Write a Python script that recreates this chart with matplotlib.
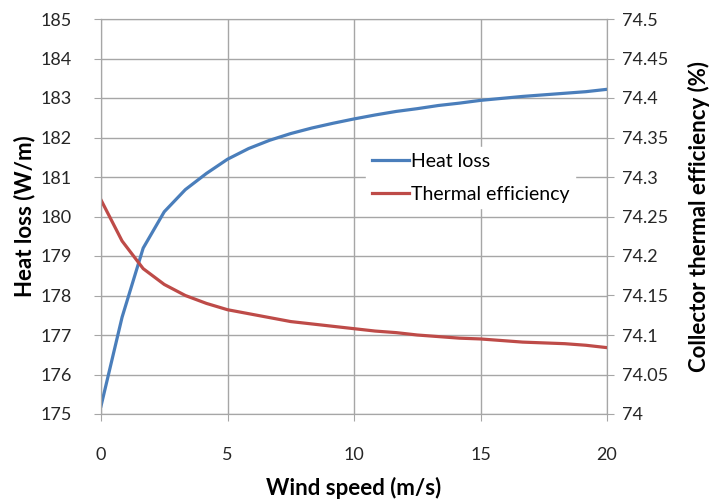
import matplotlib.pyplot as plt

plt.rcParams['font.family'] = ['Lato', 'DejaVu Sans']

# wind speed steps (m/s)
wind_speed = [0, 0.833, 1.667, 2.5, 3.333, 4.167, 5, 5.833, 6.667, 7.5, 8.333, 9.167, 10,
              10.833, 11.667, 12.5, 13.333, 14.167, 15, 15.833, 16.667, 17.5, 18.333, 19.167, 20]

heat_loss = [175.2, 177.45, 179.2, 180.12, 180.68, 181.09, 181.45, 181.72, 181.93, 182.1, 182.24,
             182.36, 182.47, 182.57, 182.66, 182.73, 182.81, 182.87, 182.94, 182.99, 183.04,
             183.08, 183.12, 183.16, 183.22]

thermal_eff = [74.271, 74.219, 74.184, 74.164, 74.150, 74.140, 74.132, 74.127, 74.122, 74.117,
               74.114, 74.111, 74.108, 74.105, 74.103, 74.100, 74.098, 74.096, 74.095, 74.093,
               74.091, 74.090, 74.089, 74.087, 74.084]

fig = plt.figure(figsize = (7.14, 5.04), dpi = 100)
ax = fig.add_axes([101 / 714, 1 - 414 / 504, 506 / 714, 395 / 504])
ax2 = ax.twinx()

grid_col = '#a6a6a6'
blue = '#4a7ebb'
red = '#be4b48'

l1, = ax.plot(wind_speed, heat_loss, color = blue, lw = 2.3, label = 'Heat loss')
l2, = ax2.plot(wind_speed, thermal_eff, color = red, lw = 2.3, label = 'Thermal efficiency')

ax.set_xlim(0, 20)
ax.set_ylim(175, 185)
ax2.set_ylim(74, 74.5)
ax.set_xticks([0, 5, 10, 15, 20])
ax.set_yticks(range(175, 186))
ax2.set_yticks([74, 74.05, 74.1, 74.15, 74.2, 74.25, 74.3, 74.35, 74.4, 74.45, 74.5])
ax2.set_yticklabels(['74', '74.05', '74.1', '74.15', '74.2', '74.25', '74.3', '74.35',
                     '74.4', '74.45', '74.5'])

ax.grid(True, color = grid_col, lw = 1)
ax.set_axisbelow(True)
for a in (ax, ax2):
    for s in a.spines.values():
        s.set_color(grid_col)
    a.tick_params(colors = grid_col, labelcolor = '#262626', labelsize = 13, length = 5)
ax.tick_params(axis = 'y', pad = 16)
ax.tick_params(axis = 'x', pad = 19)
ax2.tick_params(axis = 'y', pad = 6)

ax.set_xlabel('Wind speed (m/s)', fontsize = 16, fontweight = 'bold', labelpad = 10)
ax.set_ylabel('Heat loss (W/m)', fontsize = 16, fontweight = 'bold', labelpad = 4)
ax2.set_ylabel('Collector thermal efficiency (%)', fontsize = 16, fontweight = 'bold', labelpad = 14)

leg = ax2.legend(handles = [l1, l2], loc = 'upper left', bbox_to_anchor = (0.505, 0.70),
                 frameon = True, fontsize = 14, handlelength = 1.9, handletextpad = 0.1,
                 borderpad = 0.3, labelspacing = 0.8, fancybox = False)
leg.get_frame().set_edgecolor('white')
leg.get_frame().set_facecolor('white')
leg.get_frame().set_alpha(1)

plt.savefig('out.png', dpi = 100)
